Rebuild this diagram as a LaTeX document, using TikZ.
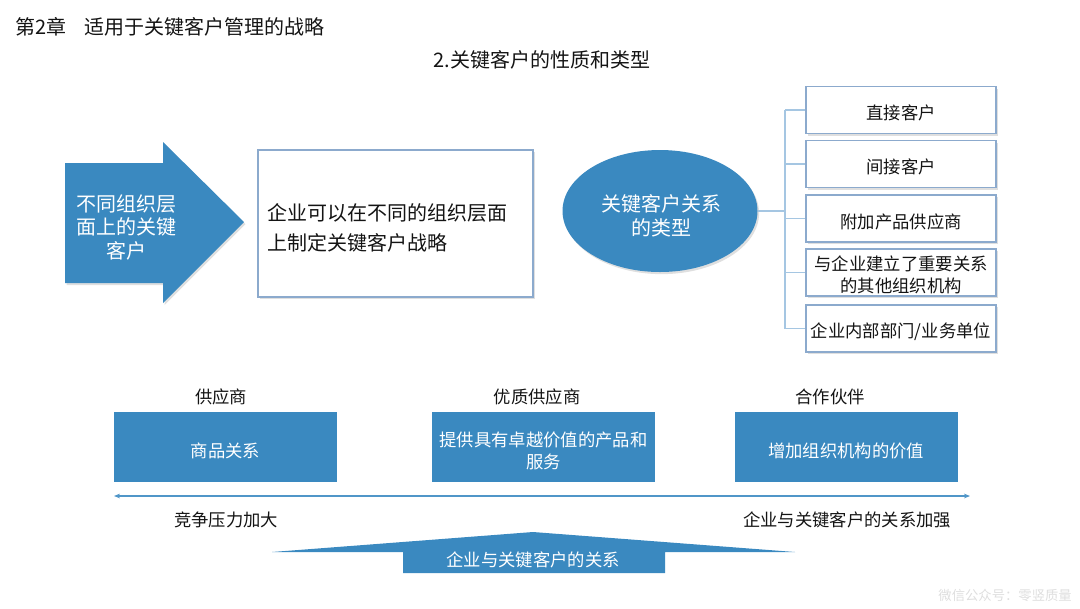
\documentclass[tikz,border=0pt]{standalone}
\usepackage{fontspec}
\setmainfont{Noto Sans CJK SC}
\usetikzlibrary{shapes.geometric,shadows,arrows.meta,calc}
\definecolor{kblue}{RGB}{58,137,192}
\definecolor{kborder}{RGB}{140,170,205}
\definecolor{kline}{RGB}{165,198,226}
\definecolor{karrow}{RGB}{80,150,200}
\definecolor{wm}{RGB}{222,222,222}
\definecolor{ktext}{RGB}{20,20,20}
\begin{document}
\begin{tikzpicture}[x=0.75pt,y=-0.75pt,
  softshadow/.style={drop shadow={opacity=0.25,shadow xshift=1.2pt,shadow yshift=-1.6pt}},
  big/.style={font=\fontsize{15}{18}\selectfont},
  small/.style={font=\fontsize{13}{16.5}\selectfont},
  tbox/.style={draw=kborder, fill=white, line width=0.9pt, minimum width=142.5pt,
     minimum height=35.25pt, inner sep=0pt, small, align=center, text=ktext, softshadow},
  tone/.style={text height=15.5pt},
  ttwo/.style={text height=31pt},
  bbox/.style={fill=kblue, minimum width=167.25pt, minimum height=52.5pt, inner sep=0pt,
     text=white, small, align=center},
  bone/.style={text height=17pt},
  btwo/.style={text height=34pt},
  lbl/.style={small, text=ktext, inner sep=0pt},
  tree/.style={draw=kline, line width=0.8pt}
]
\useasboundingbox (0,0) rectangle (1080,608);

% titles
\node[big, anchor=west, text=ktext, inner sep=0pt] (title) at (15,27) {第2章\hspace{0.9em}适用于关键客户管理的战略};
\node[big, text=ktext, inner sep=0pt] (sub) at (542,60) {2.关键客户的性质和类型};

% left arrow
\fill[kblue, softshadow] (65,163) -- (163,163) -- (163,142) -- (244,222) -- (163,303) -- (163,283) -- (65,283) -- cycle;
\node[font=\fontsize{15}{17.6}\selectfont, text=white, align=center, inner sep=0pt] (arrtext) at (126,227) {不同组织层\\面上的关键\\客户};

% white box
\node[draw=kborder, fill=white, line width=0.9pt, minimum width=206.25pt, minimum height=110.25pt,
      softshadow, inner sep=0pt] (strat) at (395.5,223.5) {};
\node[font=\fontsize{15}{23}\selectfont, text=ktext, align=left, anchor=west, inner sep=0pt] (strattext) at (267,228) {企业可以在不同的组织层面\\上制定关键客户战略};

% ellipse
\node[ellipse, fill=kblue, minimum width=146.25pt, minimum height=91.5pt, inner sep=0pt,
      softshadow] (ell) at (660,211) {};
\node[font=\fontsize{15}{18}\selectfont, text=white, align=center, inner sep=0pt] (elltext) at (661,215.5) {关键客户关系\\的类型};

% type boxes
\node[tbox, tone] (t1) at (901,110) {直接客户};
\node[tbox, tone] (t2) at (901,164) {间接客户};
\node[tbox, tone] (t3) at (901,218.5) {附加产品供应商};
\node[tbox, ttwo] (t4) at (901,272.5) {与企业建立了重要关系\\的其他组织机构};
\node[tbox, tone] (t5) at (901,328.5) {企业内部部门/业务单位};

% tree connectors
\coordinate (bus) at (785,211);
\draw[tree] (ell.east) -- (bus);
\draw[tree] (bus |- t1.west) -- (bus |- t5.west);
\foreach \t in {t1,t2,t3,t4,t5} {\draw[tree] (bus |- \t.west) -- (\t.west);}

% bottom labels and boxes
\node[lbl] (l1) at (221,397) {供应商};
\node[lbl] (l2) at (537,397) {优质供应商};
\node[lbl] (l3) at (830,397) {合作伙伴};
\node[bbox, bone] (b1) at (225.5,447) {商品关系};
\node[bbox, btwo] (b2) at (543.5,447) {提供具有卓越价值的产品和\\服务};
\node[bbox, bone] (b3) at (846,447) {增加组织机构的价值};

% double arrow
\coordinate (la) at (114,496);
\coordinate (ra) at (970,496);
\draw[karrow, line width=0.8pt, {Stealth[length=4.5pt,width=3.5pt]}-{Stealth[length=4.5pt,width=3.5pt]}] (la) -- (ra);
\node[lbl] (c1) at (226,520) {竞争压力加大};
\node[lbl] (c2) at (847,520) {企业与关键客户的关系加强};

% bottom up-arrow
\fill[kblue] (403,573) -- (403,552) -- (272,552) -- (533,532) -- (795,552) -- (665,552) -- (665,573) -- cycle;
\node[small, text=white, inner sep=0pt] (reltext) at (533,560) {企业与关键客户的关系};

% watermark
\node[font=\fontsize{10}{12}\selectfont, text=wm, anchor=east, inner sep=0pt] (wmk) at (1072,595) {微信公众号：零竖质量};
\end{tikzpicture}
\end{document}
